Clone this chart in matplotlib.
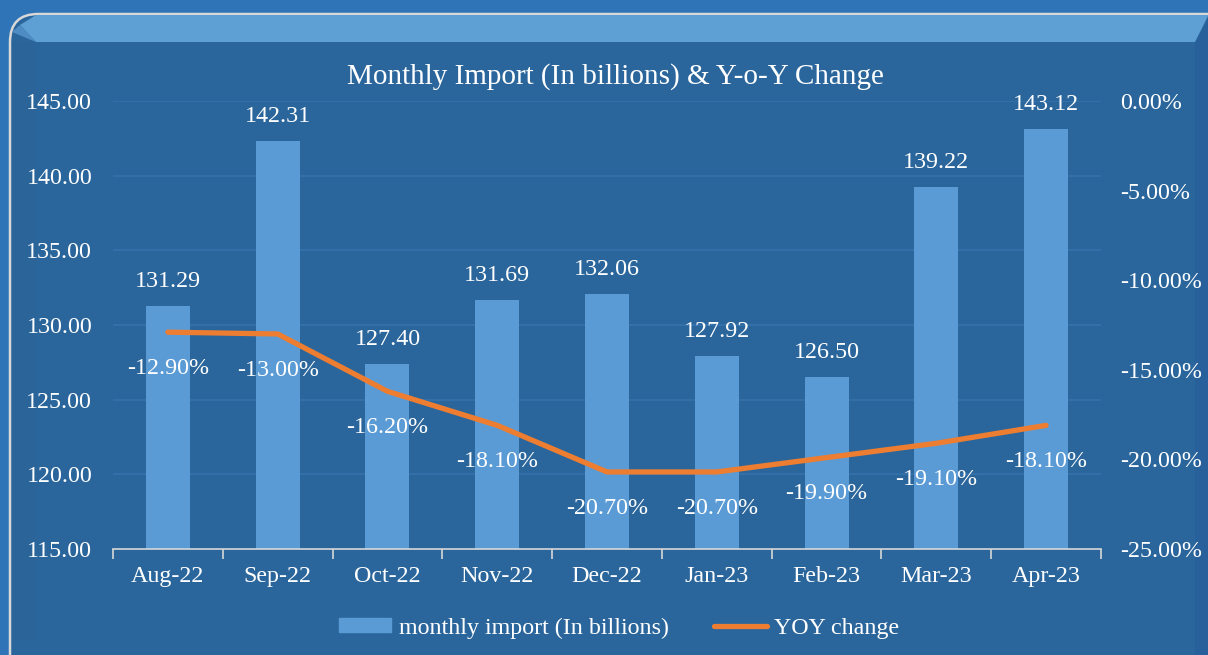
import matplotlib.pyplot as plt
import numpy as np
from matplotlib.patches import FancyBboxPatch, Polygon, Rectangle
from matplotlib.lines import Line2D

# ---- data ----
months = ["Aug-22", "Sep-22", "Oct-22", "Nov-22", "Dec-22",
          "Jan-23", "Feb-23", "Mar-23", "Apr-23"]
imports = [131.29, 142.31, 127.40, 131.69, 132.06, 127.92, 126.50, 139.22, 143.12]
yoy = [-12.90, -13.00, -16.20, -18.10, -20.70, -20.70, -19.90, -19.10, -18.10]

left_ticks = [115, 120, 125, 130, 135, 140, 145]
right_ticks = [-25, -20, -15, -10, -5, 0]

# ---- colours ----
OUTER = "#2E74B6"
PANEL = "#2A669B"
BAND = "#5E9FD4"
BAR = "#5B9BD5"
LINE = "#ED7D31"
GRID = "#3573AC"
TXT = "white"

plt.rcParams["font.family"] = ["Liberation Serif", "DejaVu Serif"]
FS = 17.3

W, H = 1208, 655
fig = plt.figure(figsize=(W / 100, H / 100), dpi=100)
fig.patch.set_facecolor(OUTER)

# background panel drawn in pixel coordinates
bg = fig.add_axes([0, 0, 1, 1])
bg.set_xlim(0, W)
bg.set_ylim(H, 0)
bg.axis("off")
bg.add_patch(FancyBboxPatch((10, 14), 1240, 700,
                            boxstyle="round,pad=0,rounding_size=28",
                            facecolor=PANEL, edgecolor="#D8D8D8", lw=1.8))
bg.add_patch(Polygon([(12, 42), (36, 42), (36, 640), (12, 640)],
                     closed=True, facecolor="#2A6498", edgecolor="none"))
bg.add_patch(Polygon([(1195, 42), (1208, 20), (1208, 655), (1195, 655)],
                     closed=True, facecolor="#27609A", edgecolor="none"))
bg.add_patch(Polygon([(36, 42), (1195, 42), (1208, 16), (1208, 15), (36, 15), (20, 25)],
                     closed=True, facecolor=BAND, edgecolor="none"))
bg.add_patch(Polygon([(12, 32), (20, 25), (36, 42)],
                     closed=True, facecolor="#4F8CC4", edgecolor="none"))

# ---- chart ----
ax = fig.add_axes([113 / W, 1 - 549 / H, (1101 - 113) / W, (549 - 101) / H])
ax.set_facecolor("none")
x = np.arange(len(months))
ax.bar(x, imports, width=0.4, color=BAR, zorder=2)
ax.set_xlim(-0.5, len(months) - 0.5)
ax.set_ylim(115, 145)
ax.set_yticks(left_ticks)
ax.set_yticklabels([f"{v:.2f}" for v in left_ticks])
for v in left_ticks[1:]:
    ax.axhline(v, color=GRID, lw=1.2, zorder=1)

ax.set_xticks(x)
ax.set_xticklabels(months)
ax.set_xticks(np.arange(-0.5, len(months)), minor=True)
ax.tick_params(axis="x", which="major", length=0, pad=12, labelsize=FS, labelcolor=TXT)
ax.tick_params(axis="x", which="minor", length=7, width=1.2, color="#D8D8D8")
ax.tick_params(axis="y", length=0, pad=15, labelsize=FS, labelcolor=TXT)
for s in ["top", "right", "left"]:
    ax.spines[s].set_visible(False)
ax.spines["bottom"].set_color("#D8D8D8")
ax.spines["bottom"].set_linewidth(1.2)

for xi, v in zip(x, imports):
    ax.annotate(f"{v:.2f}", (xi, v), xytext=(0, 10), textcoords="offset points",
                ha="center", va="bottom", color=TXT, fontsize=FS)

ax2 = ax.twinx()
ax2.plot(x, yoy, color=LINE, lw=3.8, solid_capstyle="round", zorder=3)
ax2.set_ylim(-25, 0)
ax2.set_yticks(right_ticks)
ax2.set_yticklabels([f"{v:.2f}%" for v in right_ticks])
ax2.tick_params(axis="y", length=0, pad=14, labelsize=FS, labelcolor=TXT)
for s in ax2.spines.values():
    s.set_visible(False)
for xi, v in zip(x, yoy):
    ax2.annotate(f"{v:.2f}%", (xi, v), xytext=(0, -26), textcoords="offset points",
                 ha="center", va="center", color=TXT, fontsize=FS)

fig.text(615 / W, 1 - 77 / H, "Monthly Import (In billions) & Y-o-Y Change",
         ha="center", va="center", color=TXT, fontsize=21)

handles = [Rectangle((0, 0), 1, 1, color=BAR),
           Line2D([0], [0], color=LINE, lw=3.8, solid_capstyle="round")]
fig.legend(handles, ["monthly import (In billions)", "YOY change"],
           loc="center", bbox_to_anchor=(619 / W, 1 - 628 / H), ncol=2,
           frameon=False, fontsize=FS, labelcolor=TXT,
           handlelength=2.2, handleheight=0.5, handletextpad=0.3, columnspacing=1.9)

fig.savefig("out.png", dpi=100, facecolor=fig.get_facecolor())
